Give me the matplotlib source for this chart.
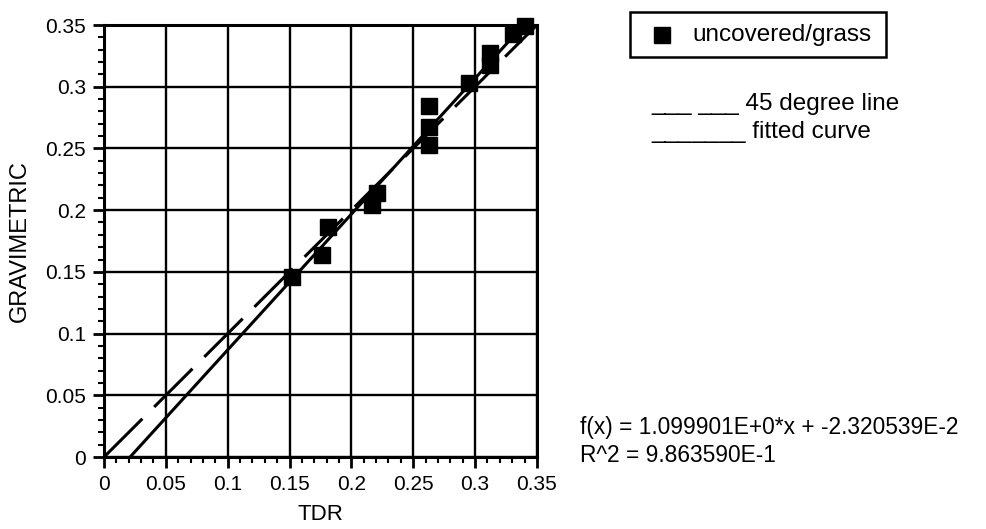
import matplotlib.pyplot as plt
import numpy as np
from matplotlib.ticker import MultipleLocator
from matplotlib.patches import Rectangle

plt.rcParams['font.family'] = ['Liberation Sans', 'DejaVu Sans']
plt.rcParams['lines.scale_dashes'] = False

# datos
tdr = [0.152, 0.176, 0.181, 0.217, 0.221, 0.263, 0.263, 0.263,
       0.295, 0.312, 0.312, 0.331, 0.340]
grav = [0.146, 0.164, 0.186, 0.204, 0.214, 0.284, 0.267, 0.253,
        0.303, 0.327, 0.318, 0.343, 0.349]

pendiente = 1.099901
ordenada = -2.320539e-2

ticks = [0, 0.05, 0.1, 0.15, 0.2, 0.25, 0.3, 0.35]
tick_labels = ['0', '0.05', '0.1', '0.15', '0.2', '0.25', '0.3', '0.35']

fig = plt.figure(figsize=(9.86, 5.29), dpi=100)
ax = fig.add_axes([0.1055, 0.1361, 0.439, 0.8166])

# linea de 45 grados
ax.plot([0, 0.35], [0, 0.35], color='black', lw=2.2, dashes=(39, 12))
# recta ajustada
x0 = -ordenada / pendiente
x1 = (0.35 - ordenada) / pendiente
xs = np.array([x0, x1])
ax.plot(xs, pendiente * xs + ordenada, color='black', lw=2.2)

ax.plot(tdr, grav, 's', color='black', ms=11, zorder=5, clip_on=False)

ax.set_xlim(0, 0.35)
ax.set_ylim(0, 0.35)
ax.set_xticks(ticks)
ax.set_xticklabels(tick_labels)
ax.set_yticks(ticks)
ax.set_yticklabels(tick_labels)
ax.xaxis.set_minor_locator(MultipleLocator(0.01))
ax.yaxis.set_minor_locator(MultipleLocator(0.01))
ax.tick_params(which='major', direction='out', length=8, width=2, labelsize=15, pad=5)
ax.tick_params(which='minor', direction='out', length=4, width=1.5)
ax.grid(True, color='black', lw=1.7)
for s in ax.spines.values():
    s.set_linewidth(2.2)

ax.set_xlabel('TDR', fontsize=16, va='center')
ax.xaxis.set_label_coords(0.5, -0.134)
ax.set_ylabel('GRAVIMETRIC', fontsize=17, va='center')
ax.yaxis.set_label_coords(-0.194, 0.5)

# leyenda dibujada a mano
fig.add_artist(Rectangle((0.639, 0.8922), 0.2596, 0.0851, transform=fig.transFigure,
                         facecolor='white', edgecolor='black', lw=1.8))
fig.add_artist(plt.Line2D([0.6714], [0.9338], marker='s', ms=11, color='black',
                          transform=fig.transFigure))
fig.text(0.7018, 0.9338, 'uncovered/grass', fontsize=17.5, va='center', ha='left')
fig.text(0.661, 0.803, '___ ___ 45 degree line', fontsize=17.5, va='center', ha='left')
fig.text(0.661, 0.750, '_______ fitted curve', fontsize=17.5, va='center', ha='left')

fig.text(0.588, 0.191, 'f(x) = 1.099901E+0*x + -2.320539E-2', fontsize=16.4, va='center', ha='left')
fig.text(0.588, 0.138, 'R^2 = 9.863590E-1', fontsize=16.4, va='center', ha='left')

plt.savefig('out.png', dpi=100)
